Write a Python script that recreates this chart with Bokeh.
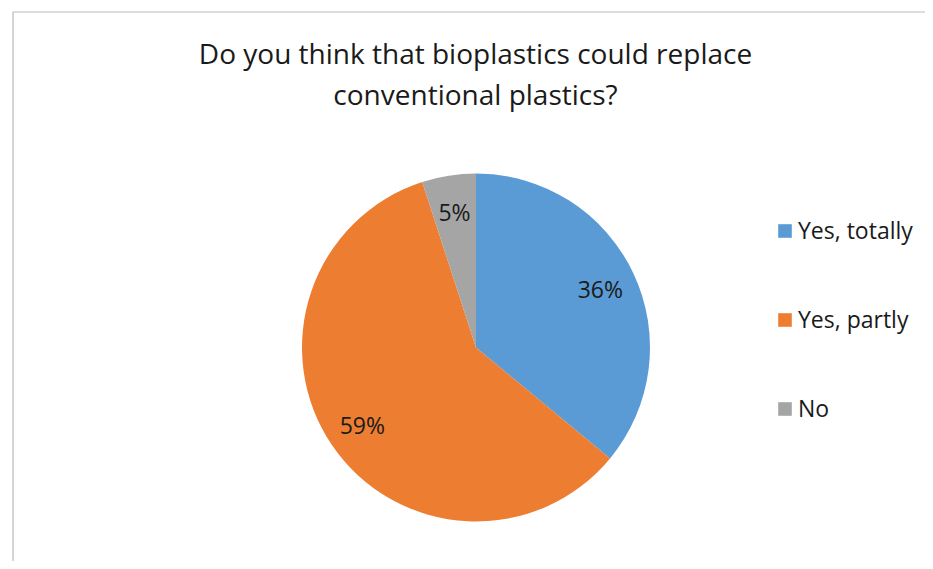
import numpy as np
from bokeh.plotting import figure
from bokeh.models import Range1d, Label, Legend, LegendItem, ColumnDataSource
from bokeh.embed import file_html
from bokeh.resources import INLINE

title_lines = ["Do you think that bioplastics could replace", "conventional plastics?"]
categories = ["Yes, totally", "Yes, partly", "No"]
values = [36, 59, 5]
labels = ["36%", "59%", "5%"]
colors = ["#5B9BD5", "#ED7D31", "#A5A5A5"]

W, H = 925, 561
FONT = "Open Sans"

p = figure(width=W, height=H, output_backend="svg", toolbar_location=None,
           x_range=Range1d(0, W), y_range=Range1d(0, H),
           min_border=0, outline_line_color=None)
p.axis.visible = False
p.grid.visible = False
p.background_fill_color = "white"
p.border_fill_color = "white"

def py(pixel_y):
    return H - pixel_y

# chart area border (extends past the window)
p.line(x=[12.5, 12.5, 1000], y=[py(700), py(11.5), py(11.5)],
       line_color="#BBBBBB", line_width=1.2)

cx, cy, R = 475.5, py(347), 174
frac = np.array(values, dtype=float) / sum(values)
cum = np.concatenate([[0], np.cumsum(frac)])
starts = np.pi / 2 - 2 * np.pi * cum[:-1]
ends = np.pi / 2 - 2 * np.pi * cum[1:]
mids = (starts + ends) / 2
src = ColumnDataSource(dict(start=starts, end=ends, color=colors, cat=categories))
r = p.wedge(x=cx, y=cy, radius=R, start_angle="start", end_angle="end",
            direction="clock", fill_color="color", line_color=None, source=src)

lr = 0.79 * R
for m, lab in zip(mids, labels):
    p.add_layout(Label(x=cx + lr * np.cos(m), y=cy + lr * np.sin(m), text=lab,
                       text_align="center", text_baseline="middle",
                       text_font=FONT, text_font_size="23px", text_color="#1a1a1a"))

for t, yy in zip(title_lines, [52, 93]):
    p.add_layout(Label(x=475, y=py(yy), text=t, text_align="center",
                       text_baseline="middle", text_font=FONT,
                       text_font_size="28px", text_color="#1a1a1a"))

items = [LegendItem(label=c, renderers=[r], index=i) for i, c in enumerate(categories)]
leg = Legend(items=items, location=(776, 137), padding=0, margin=0,
             spacing=57, glyph_width=17, glyph_height=17, label_standoff=5,
             label_text_font=FONT, label_text_font_size="23px",
             label_text_color="#1a1a1a", border_line_color=None,
             background_fill_alpha=0)
p.add_layout(leg)

open("out.html", "w").write(file_html(p, INLINE))
